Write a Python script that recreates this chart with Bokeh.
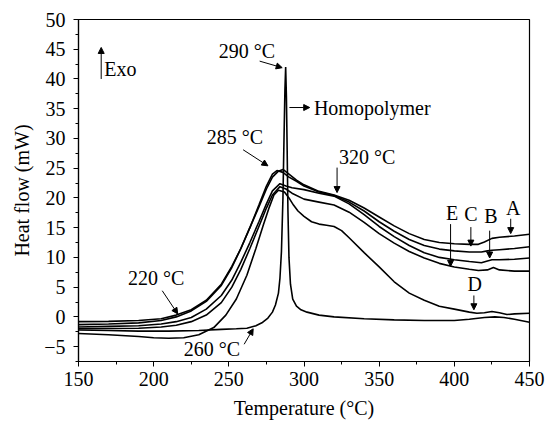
from bokeh.plotting import figure
from bokeh.models import Range1d, FixedTicker, Label, Arrow, NormalHead
from bokeh.embed import file_html
from bokeh.resources import INLINE

# ---- data ----
a_x = [150,170,190,205,215,225,235,245,252,258,264,270,275,279,283,286,290,295,300,310,320,330,340,350,360,370,380,390,400,410,416,420,425,430,440,450]
a_y = [-0.8,-0.75,-0.6,-0.3,0.3,1.2,2.8,5.5,8.5,11.5,15,18.5,21.5,23.5,24.5,24.8,24.0,23.0,22.2,21.1,20.5,19.6,18.3,16.8,15.3,14.0,13.0,12.5,12.3,12.2,12.2,12.6,13.2,13.4,13.6,13.9]

c_x = [150,170,190,205,215,225,235,245,252,258,264,270,275,279,282,286,290,295,300,310,320,330,340,350,360,370,380,390,400,410,418,422,425,430,440,450]
c_y = [-1.3,-1.2,-1.0,-0.6,0.0,1.0,2.6,5.3,8.3,11.5,15,18.8,22,24,24.6,24.3,23.5,22.8,22.0,21.0,20.4,19.3,17.8,16.0,14.4,13.0,12.0,11.4,11.1,10.9,10.9,11.1,11.2,11.3,11.5,11.8]

b_x = [150,170,190,205,215,225,235,245,252,258,264,270,275,279,284,288,292,300,310,320,330,340,350,360,370,380,390,400,410,418,422,425,430,440,450]
b_y = [-1.7,-1.6,-1.5,-1.2,-0.8,-0.1,1.3,3.6,6.2,9.2,12.5,16.0,19.0,21.2,22.4,22.0,21.7,21.4,20.8,20.3,19.0,17.2,15.2,13.5,12.0,10.8,10.0,9.6,9.3,9.1,9.4,9.6,9.6,9.7,9.9]

e_x = [150,170,190,205,215,225,235,245,252,258,264,270,275,279,284,288,292,300,310,320,330,340,350,360,370,380,390,400,410,416,422,426,430,440,450]
e_y = [-2.0,-1.95,-1.9,-1.7,-1.4,-0.8,0.3,2.4,5.0,8.0,11.5,15.2,18.3,20.5,21.9,21.5,20.8,19.8,19.3,18.8,17.6,15.9,14.0,12.4,11.0,9.9,9.0,8.4,8.0,7.8,7.9,8.3,7.9,7.7,7.7]

d_x = [150,170,190,200,210,220,230,240,248,255,262,268,273,277,280,283,287,290,293,296,300,305,310,315,320,325,330,340,350,360,370,380,390,400,410,415,420,425,430,435,440,450]
d_y = [-2.8,-3.0,-3.3,-3.5,-3.6,-3.5,-3.0,-1.8,0.3,3.0,7.0,11.5,15.5,18.5,20.5,21.3,21.0,20.0,18.8,17.8,16.9,16.0,15.6,15.4,15.2,14.5,13.3,10.8,8.4,5.9,4.0,2.8,1.8,1.3,0.8,0.6,0.7,0.9,0.7,0.4,0.5,0.6]

h_x = [150,170,190,210,230,245,255,262,268,272,276,279,281,283,284,285,286,286.7,287.3,287.8,288.3,288.8,289.3,290,291,292.5,295,298,302,310,320,340,360,380,400,410,420,427,433,440,450]
h_y = [-2.2,-2.3,-2.4,-2.4,-2.3,-2.1,-2.0,-1.9,-1.5,-1.0,-0.2,0.8,2.0,4.0,6.5,11,20,30,38,42,37,28,18,10,5.5,3.0,1.8,1.2,0.8,0.3,0.0,-0.3,-0.5,-0.6,-0.6,-0.4,-0.1,0.0,-0.1,-0.4,-0.9]

x_ticks = [150, 200, 250, 300, 350, 400, 450]
y_ticks = [-5, 0, 5, 10, 15, 20, 25, 30, 35, 40, 45, 50]

# annotation texts: (text, x, y, align)
notes = [
    ("290 °C", 262, 44.7, "center"),
    ("Homopolymer", 306.6, 35.2, "left"),
    ("285 °C", 254, 30.2, "center"),
    ("320 °C", 342, 26.8, "center"),
    ("220 °C", 201.6, 6.6, "center"),
    ("260 °C", 238.8, -5.4, "center"),
    ("Exo", 167.2, 41.7, "left"),
    ("E", 398.5, 17.4, "center"),
    ("C", 411.0, 17.3, "center"),
    ("B", 424.3, 16.9, "center"),
    ("A", 439.2, 18.3, "center"),
    ("D", 413.5, 5.6, "center"),
]
# arrows: (x_start, y_start, x_end, y_end)
arrows = [
    (270.5, 43.0, 285.5, 41.9),
    (290.3, 35.2, 303.8, 35.2),
    (259.5, 28.1, 276.0, 25.4),
    (322.0, 25.1, 322.0, 20.9),
    (205.7, 4.4, 216.0, 0.5),
    (260.2, -4.6, 266.2, -2.0),
    (165.1, 40.0, 165.1, 45.3),
    (397.5, 15.6, 397.5, 8.5),
    (411.0, 15.1, 411.0, 11.9),
    (423.5, 14.5, 423.5, 9.9),
    (437.5, 16.5, 437.5, 14.0),
    (413.0, 3.6, 413.0, 1.2),
]

FONT = "Liberation Serif"
FS = "20px"

p = figure(width=546, height=424, output_backend="svg", toolbar_location=None,
           x_range=Range1d(150, 450), y_range=Range1d(-7.5, 50),
           min_border_left=78, min_border_right=17, min_border_top=19, min_border_bottom=63)
p.grid.visible = False
p.outline_line_color = "black"
p.outline_line_width = 1.2
p.background_fill_color = "white"
p.border_fill_color = "white"

for xs, ys in [(a_x, a_y), (c_x, c_y), (b_x, b_y), (e_x, e_y), (d_x, d_y), (h_x, h_y)]:
    p.line(xs, ys, line_color="black", line_width=1.6)

p.xaxis.ticker = FixedTicker(ticks=x_ticks, minor_ticks=[150 + 25 * i for i in range(13)])
p.yaxis.ticker = FixedTicker(ticks=y_ticks, minor_ticks=[-7.5 + 2.5 * i for i in range(24)])
p.yaxis.major_label_overrides = {-5: "\u22125"}
p.xaxis.axis_label = "Temperature (\u00b0C)"
p.yaxis.axis_label = "Heat flow (mW)"
for ax in (p.xaxis, p.yaxis):
    ax.axis_line_color = "black"
    ax.axis_line_width = 1.2
    ax.major_tick_line_color = "black"
    ax.minor_tick_line_color = "black"
    ax.major_tick_in = 0
    ax.major_tick_out = 5
    ax.minor_tick_in = 0
    ax.minor_tick_out = 3
    ax.major_label_text_font = FONT
    ax.major_label_text_font_size = FS
    ax.major_label_text_color = "black"
    ax.axis_label_text_font = FONT
    ax.axis_label_text_font_size = FS
    ax.axis_label_text_font_style = "normal"
    ax.axis_label_text_color = "black"
p.yaxis.major_label_standoff = 8
p.yaxis.axis_label_standoff = 8
p.xaxis.major_label_standoff = 5
p.xaxis.axis_label_standoff = 8

for t, x, y, al in notes:
    p.add_layout(Label(x=x, y=y, text=t, text_font=FONT, text_font_size=FS,
                       text_align=al, text_baseline="middle", text_color="black"))

for x0, y0, x1, y1 in arrows:
    p.add_layout(Arrow(x_start=x0, y_start=y0, x_end=x1, y_end=y1,
                       line_color="black", line_width=1,
                       end=NormalHead(size=6, fill_color="black", line_color="black")))

open("out.html", "w").write(file_html(p, INLINE))
